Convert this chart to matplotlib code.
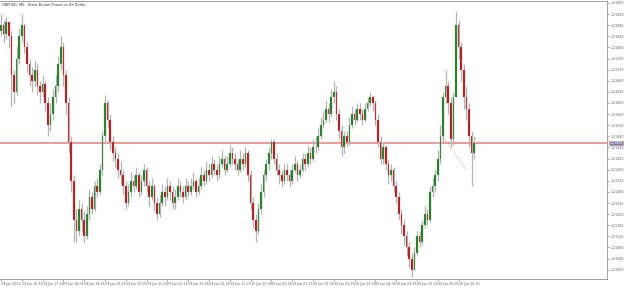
import matplotlib
matplotlib.use("Agg")
import matplotlib.pyplot as plt
import numpy as np

title = "GBPUSD, M5:  Great Britain Pound vs US Dollar"
base = 1.21000   # prices below are in pips above this
pip = 0.0001

close_p = [88, 85, 89, 84, 70, 64, 76, 84, 88, 80, 74, 70, 68, 72, 66, 64, 67, 60, 52, 56,
           62, 66, 74, 80, 70, 60, 46, 32, 18, 14, 22, 18, 12, 20, 26, 22, 30, 28, 36, 48,
           60, 54, 46, 42, 40, 36, 34, 30, 24, 28, 32, 30, 34, 28, 32, 36, 30, 26, 30, 24,
           20, 24, 28, 26, 30, 28, 24, 26, 30, 28, 26, 30, 28, 30, 32, 28, 30, 34, 32, 36,
           34, 38, 36, 34, 38, 40, 36, 38, 42, 40, 38, 36, 40, 38, 42, 34, 24, 18, 14, 22,
           28, 34, 38, 42, 46, 40, 36, 34, 32, 36, 34, 32, 36, 38, 34, 36, 40, 38, 42, 40,
           44, 44, 48, 52, 54, 58, 56, 62, 64, 56, 50, 44, 48, 46, 52, 56, 54, 58, 56, 54,
           58, 60, 62, 60, 54, 46, 40, 44, 38, 34, 36, 30, 26, 20, 16, 12, 8, 4, 0, 6,
           12, 10, 16, 20, 18, 28, 30, 34, 40, 48, 62, 66, 60, 47, 62, 88, 80, 72, 62, 58,
           48, 42, 45.6]
high_p = [92, 90, 91, 89, 86, 72, 80, 87, 92, 88, 82, 76, 73, 75, 74, 68, 70, 68, 62, 60,
          65, 70, 77, 84, 82, 72, 62, 48, 34, 22, 25, 24, 21, 23, 29, 28, 32, 33, 38, 50,
          63, 61, 56, 48, 44, 42, 39, 36, 32, 31, 35, 34, 37, 35, 34, 38, 37, 32, 33, 31,
          26, 27, 31, 30, 33, 32, 30, 29, 33, 32, 30, 33, 32, 33, 35, 33, 33, 37, 36, 39,
          38, 41, 40, 38, 41, 43, 41, 41, 45, 44, 42, 40, 43, 42, 44, 43, 36, 26, 20, 24,
          31, 36, 40, 44, 47, 47, 42, 38, 36, 38, 38, 36, 38, 41, 39, 38, 42, 42, 45, 44,
          47, 48, 51, 55, 57, 61, 60, 65, 68, 66, 58, 52, 50, 50, 55, 59, 58, 60, 60, 58,
          60, 62, 64, 63, 61, 56, 48, 46, 45, 40, 38, 37, 32, 28, 22, 18, 14, 10, 6, 8,
          14, 14, 18, 23, 22, 30, 33, 36, 43, 52, 64, 72, 68, 62, 64, 93, 90, 82, 74, 66,
          60, 50, 48]
low_p = [84, 82, 83, 80, 59, 60, 63, 74, 82, 78, 71, 66, 64, 66, 63, 60, 62, 57, 48, 50,
         54, 60, 64, 72, 66, 56, 42, 28, 10, 10, 12, 14, 10, 11, 18, 20, 21, 26, 27, 34,
         46, 51, 43, 39, 37, 33, 31, 27, 22, 23, 26, 28, 29, 26, 27, 30, 28, 23, 25, 21,
         18, 19, 23, 23, 25, 25, 22, 22, 25, 26, 24, 25, 26, 27, 29, 26, 27, 29, 30, 31,
         32, 33, 34, 32, 33, 37, 34, 35, 37, 38, 36, 34, 35, 36, 37, 32, 22, 15, 10, 13,
         20, 26, 32, 36, 40, 38, 34, 31, 30, 31, 32, 30, 31, 35, 32, 33, 35, 36, 37, 38,
         39, 42, 43, 47, 51, 53, 53, 55, 60, 54, 47, 41, 42, 44, 45, 51, 52, 53, 54, 52,
         53, 57, 59, 57, 52, 44, 38, 38, 36, 31, 32, 28, 24, 18, 13, 9, 5, 1, -2.5, 0,
         5, 8, 9, 15, 16, 17, 26, 28, 32, 38, 46, 60, 56, 44, 45, 72, 76, 68, 58, 54,
         44, 30, 40]
open_p = [86] + close_p[:-1]

bid = base + 45.6 * pip
price_ticks = [base + k * 4 * pip for k in range(25)]
time_labels = ["29 Jun 2022", "29 Jun 16:45", "29 Jun 17:25", "29 Jun 18:05", "29 Jun 18:45",
               "29 Jun 19:25", "29 Jun 20:05", "29 Jun 20:45", "29 Jun 21:25", "29 Jun 22:05",
               "29 Jun 22:45", "29 Jun 23:25", "30 Jun 00:05", "30 Jun 00:45", "30 Jun 01:25",
               "30 Jun 02:05", "30 Jun 02:45", "30 Jun 03:25", "30 Jun 04:05", "30 Jun 04:45",
               "30 Jun 05:25", "30 Jun 06:05", "30 Jun 06:45"]
trend_x = [169, 179]
trend_p = [49, 36]

o = base + np.array(open_p) * pip
c = base + np.array(close_p) * pip
h = base + np.array(high_p) * pip
l = base + np.array(low_p) * pip
idx = np.arange(len(c))

fig = plt.figure(figsize=(6.25, 2.88), dpi=100)
ax = fig.add_axes([0, 9 / 288, 607 / 625, 278 / 288])

up = c >= o
ax.vlines(idx, l, h, color="#b4b4b4", lw=0.9, zorder=2)
bw = 0.55
ax.bar(idx[up], (c - o)[up], bottom=o[up], width=bw, color="#1f7a1f", edgecolor="#8aa88a",
       lw=0.2, zorder=3)
ax.bar(idx[~up], (o - c)[~up], bottom=c[~up], width=bw, color="#b01818", edgecolor="#b08080",
       lw=0.2, zorder=3)

# bid line
ax.axhline(bid, color="#f07c7c", lw=1.1, zorder=1)
ax.plot(trend_x, base + np.array(trend_p) * pip, color="#e08080", lw=0.5, ls=(0, (1, 1)), zorder=4)

xmin = -1 / 2.6
ax.set_xlim(xmin, xmin + 607 / 2.6)
ax.set_ylim(base - 3.36 * pip, base + 96.72 * pip)

ax.yaxis.tick_right()
ax.set_yticks(price_ticks)
ax.set_yticklabels(["%.5f" % p for p in price_ticks])
ax.set_xticks(np.arange(len(time_labels)) * 8)
ax.set_xticklabels(time_labels, ha="left")
ax.tick_params(axis="both", labelsize=2.3, colors="#606060", length=1.5, width=0.4, pad=1)
ax.tick_params(axis="x", length=1.2)
for s in ax.spines.values():
    s.set_color("#909090")
    s.set_linewidth(0.6)
ax.spines["left"].set_visible(False)

ax.text(0.003, 0.992, title, transform=ax.transAxes, fontsize=2.5, color="#303030",
        va="top", ha="left", zorder=10)
ax.text(1.004, bid, "%.5f" % bid, transform=ax.get_yaxis_transform(), fontsize=2.3, color="white",
        va="center", ha="left", zorder=10,
        bbox=dict(boxstyle="square,pad=0.15", fc="#6f86b8", ec="#e07070", lw=0.4))

fig.savefig("out.png", dpi=100, facecolor="white")
